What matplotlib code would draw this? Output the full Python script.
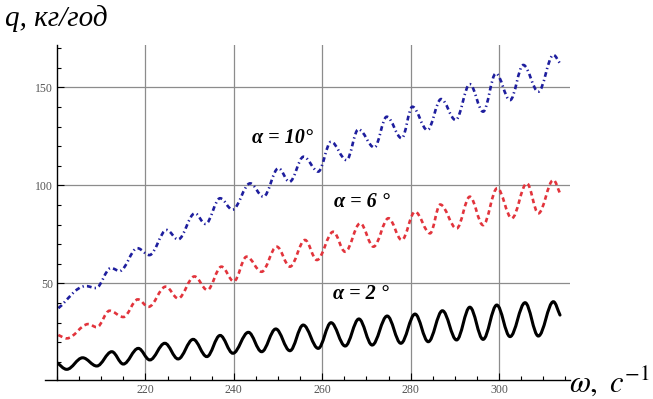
import matplotlib
matplotlib.use("Agg")
import matplotlib.pyplot as plt
from matplotlib.path import Path
from matplotlib.patches import PathPatch
from matplotlib.ticker import MultipleLocator

# peaks / troughs of each curve (omega, q)
black_x = [200.0, 202.2, 205.8, 209.0, 212.4, 215.0, 218.4, 221.0, 224.4, 227.4,
           230.8, 233.9, 236.9, 239.8, 243.3, 246.3, 249.5, 252.7, 255.7, 259.1,
           262.0, 265.2, 268.3, 271.3, 274.7, 277.8, 281.0, 284.0, 287.2, 290.4,
           293.4, 296.4, 299.5, 302.5, 305.9, 308.9, 312.3, 313.8]
black_y = [9.5, 6.1, 12.0, 7.8, 15.1, 8.8, 16.8, 10.9, 19.4, 11.4,
           21.4, 12.6, 23.4, 14.3, 25.0, 15.1, 26.7, 15.6, 28.7, 16.8,
           29.9, 18.0, 31.8, 18.5, 33.3, 19.4, 34.3, 20.2, 36.0, 21.1,
           37.8, 21.4, 38.9, 22.8, 40.1, 23.1, 40.6, 33.8]

red_x = [200.3, 202.2, 207.1, 209.0, 211.9, 215.0, 218.3, 220.7, 224.6, 227.4,
         231.1, 234.0, 237.2, 240.0, 242.9, 246.3, 249.7, 252.7, 256.1, 258.8,
         262.5, 265.2, 268.6, 271.6, 275.0, 278.0, 281.0, 284.4, 286.7, 290.4,
         293.4, 296.4, 299.6, 302.9, 306.3, 308.9, 312.3, 313.8]
red_y = [23.6, 21.9, 29.2, 27.6, 36.0, 32.8, 41.8, 38.0, 48.3, 42.3,
         53.5, 46.6, 58.5, 51.0, 63.6, 55.9, 68.7, 58.5, 72.1, 61.9,
         76.3, 66.1, 80.6, 68.7, 83.2, 72.1, 86.5, 75.5, 90.2, 78.0,
         94.2, 79.7, 98.5, 83.2, 101.0, 85.7, 102.7, 95.9]

blue_x = [200.3, 206.5, 208.8, 212.2, 214.2, 218.2, 220.9, 224.8, 227.4, 231.2,
          233.6, 236.9, 239.7, 243.7, 246.7, 250.1, 252.6, 255.8, 259.1, 262.0,
          265.5, 268.2, 271.8, 274.6, 278.0, 280.4, 283.8, 286.9, 290.2, 293.4,
          296.4, 299.3, 302.5, 305.5, 308.9, 312.3, 313.8]
blue_y = [37.3, 48.6, 47.6, 57.8, 56.3, 67.9, 64.4, 77.2, 72.4, 85.7,
          80.3, 93.4, 87.6, 101.0, 94.2, 108.7, 101.8, 114.6, 107.0, 122.2,
          112.9, 128.6, 119.3, 135.0, 124.0, 140.1, 128.2, 144.0, 133.3, 151.6,
          137.6, 157.1, 143.5, 161.4, 147.8, 166.5, 162.2]

labels = ["α = 10°", "α = 6 °", "α = 2 °"]
label_x = [250.9, 269.0, 268.8]
label_y = [124.1, 91.5, 44.5]


def smooth_path(xs, ys):
    # cubic segments between extremes, flat tangent at each peak/trough
    verts = [(xs[0], ys[0])]
    codes = [Path.MOVETO]
    n = len(xs)
    k = 0.3634
    for i in range(n - 1):
        x0, y0, x1, y1 = xs[i], ys[i], xs[i + 1], ys[i + 1]
        dx, dy = x1 - x0, y1 - y0
        c1 = (x0 + dx / 3, y0 + dy / 3) if i == 0 else (x0 + k * dx, y0)
        c2 = (x1 - dx / 3, y1 - dy / 3) if i == n - 2 else (x1 - k * dx, y1)
        verts += [c1, c2, (x1, y1)]
        codes += [Path.CURVE4] * 3
    return Path(verts, codes)


plt.rcParams['mathtext.fontset'] = 'stix'
fig = plt.figure(figsize=(6.53, 3.99), dpi=100)
ax = fig.add_axes([57 / 653, 1 - 380 / 399, (570 - 57) / 653, (380 - 45) / 399])

ax.set_xlim(200, 316.06)
ax.set_ylim(0.66, 171.6)

ax.add_patch(PathPatch(smooth_path(black_x, black_y), fill=False,
                       edgecolor="black", lw=2.2, capstyle="round"))
ax.add_patch(PathPatch(smooth_path(red_x, red_y), fill=False,
                       edgecolor="#e2343c", lw=1.9, linestyle=(0, (1.7, 1.3))))
ax.add_patch(PathPatch(smooth_path(blue_x, blue_y), fill=False,
                       edgecolor="#1e1e9e", lw=1.9,
                       linestyle=(0, (1.8, 1.2, 0.5, 1.2))))

for t, x, y in zip(labels, label_x, label_y):
    ax.text(x, y, t, ha="center", va="center", fontsize=14.5,
            family="Liberation Serif", style="italic", weight="bold")

# Mathematica-like axes
for s in ["top", "right"]:
    ax.spines[s].set_visible(False)
ax.spines["left"].set_linewidth(1.0)
ax.spines["bottom"].set_linewidth(1.0)
ax.spines["bottom"].set_bounds(197.3, 316.06)

ax.set_xticks([220, 240, 260, 280, 300])
ax.set_yticks([50, 100, 150])
ax.xaxis.set_minor_locator(MultipleLocator(5))
ax.yaxis.set_minor_locator(MultipleLocator(10))
ax.tick_params(which="major", direction="in", length=5, width=0.8,
               labelsize=8.5, labelcolor="#555555", pad=3)
ax.tick_params(which="minor", direction="in", length=3, width=0.8)
for lab in ax.get_xticklabels() + ax.get_yticklabels():
    lab.set_family("Liberation Serif")
ax.spines["bottom"].set_clip_on(False)

ax.grid(True, which="major", color="#8c8c8c", lw=0.9)
ax.set_axisbelow(True)

fig.text(0.008, 0.935, "q, кг/год", fontsize=21, family="Liberation Serif",
         style="italic", va="baseline")
fig.text(569 / 653, 0.018, r"$\omega,\ c^{-1}$", fontsize=22, va="baseline")

fig.savefig("out.png", dpi=100)
